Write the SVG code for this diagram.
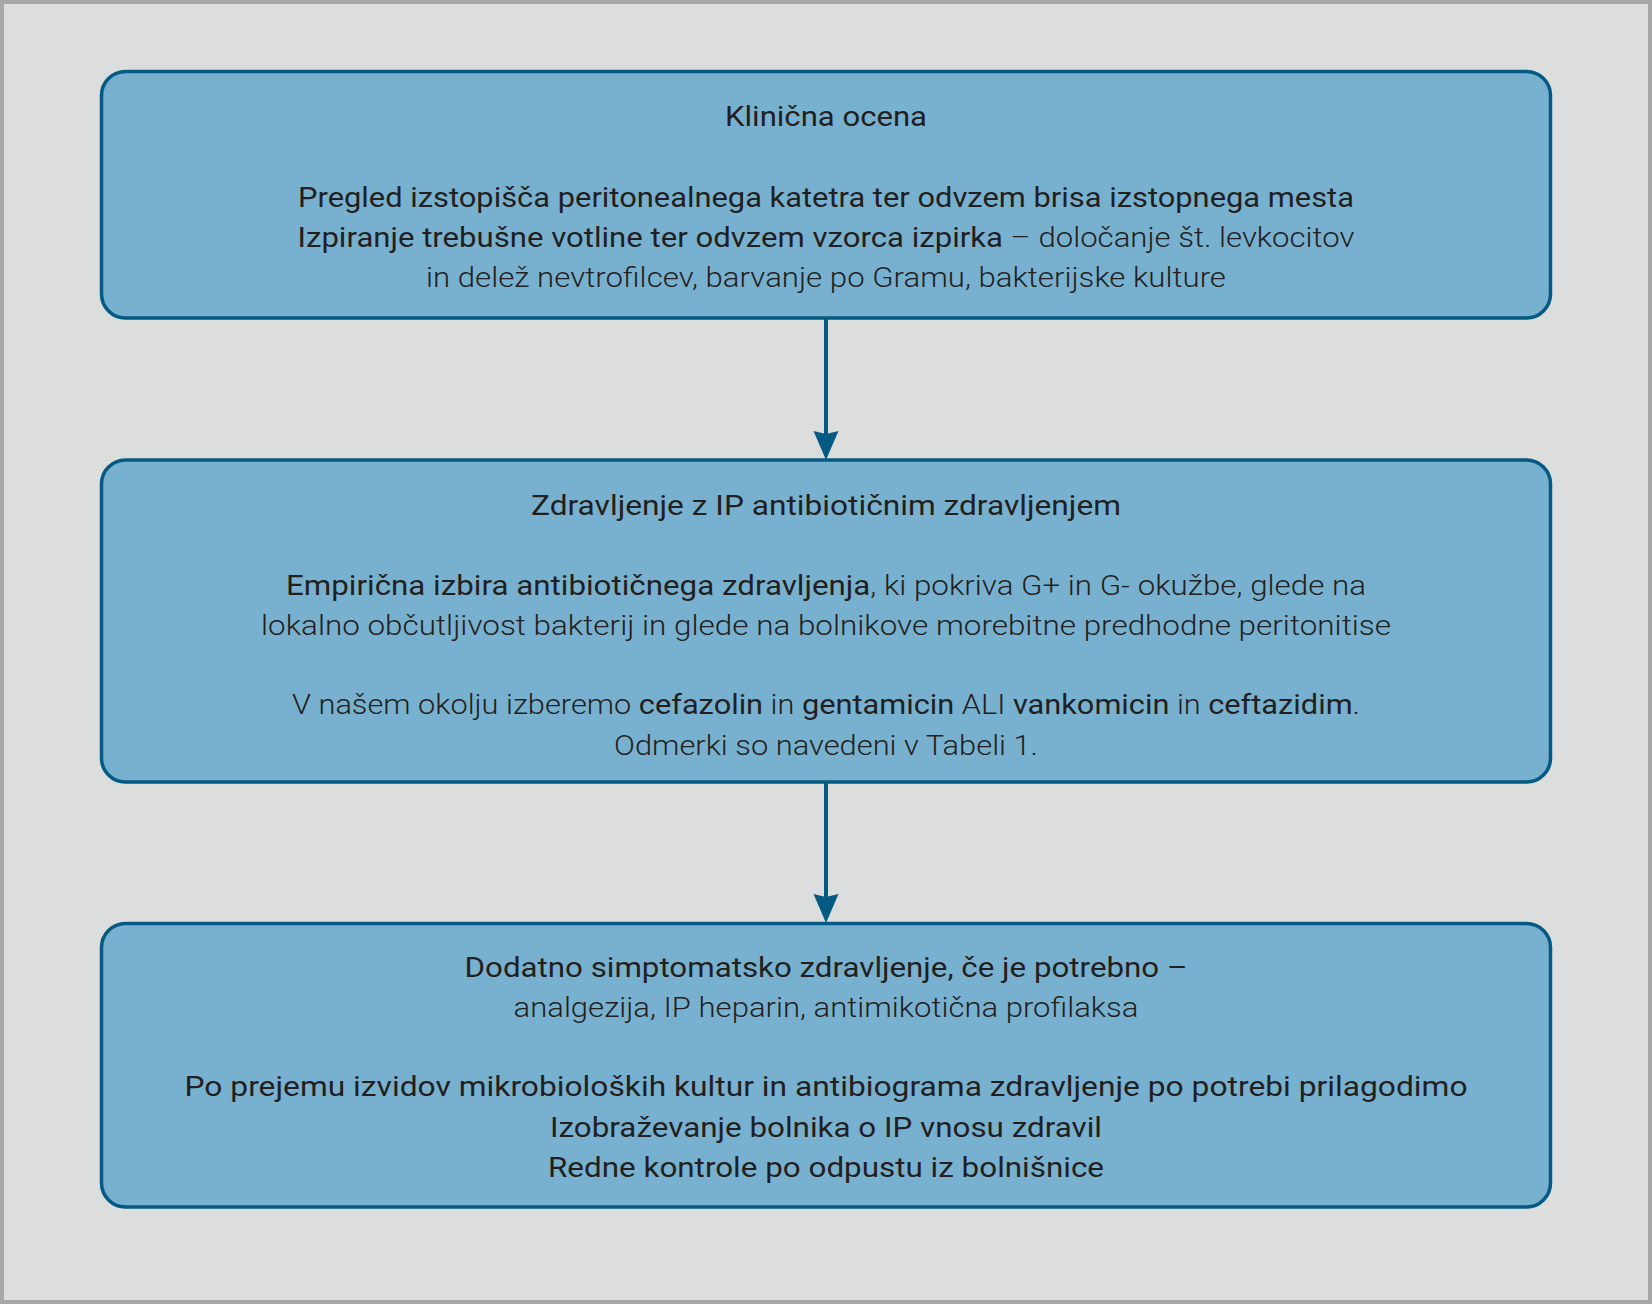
<svg xmlns="http://www.w3.org/2000/svg" width="1652" height="1304" viewBox="0 0 1652 1304">
<defs>
<style>
.frame{fill:#dcdedd;stroke:#a7a7a7;stroke-width:4}
.box{fill:#78b1cf;stroke:#045a82;stroke-width:3.5}
.conn{stroke:#045a82;stroke-width:4;fill:none}
text{font-family:Roboto,"Noto Sans","Liberation Sans",sans-serif;font-size:27px;fill:#231f20;text-anchor:middle}
.r{font-weight:400}
.l{font-weight:300}
</style>
<marker id="ah" markerUnits="userSpaceOnUse" markerWidth="29" markerHeight="26" viewBox="0 0 29 26" refX="9" refY="13" orient="auto">
<path d="M0,0.5 L29,13 L0,25.5 L3,13 Z" fill="#045a82"/>
</marker>
</defs>
<rect class="frame" x="2" y="2" width="1648" height="1300"/>
<g id="connectors">
<line class="conn" x1="826" y1="318" x2="826" y2="440" marker-end="url(#ah)"/>
<line class="conn" x1="826" y1="782" x2="826" y2="903" marker-end="url(#ah)"/>
</g>
<g id="node1">
<rect class="box" x="101.5" y="71.5" width="1449" height="246.5" rx="24"/>
<text x="826" y="126" class="r" textLength="202" lengthAdjust="spacingAndGlyphs">Klinična ocena</text>
<text x="826" y="207" class="r" textLength="1056" lengthAdjust="spacingAndGlyphs">Pregled izstopišča peritonealnega katetra ter odvzem brisa izstopnega mesta</text>
<text x="826" y="247" textLength="1057" lengthAdjust="spacingAndGlyphs"><tspan class="r">Izpiranje trebušne votline ter odvzem vzorca izpirka</tspan><tspan class="l"> – določanje št. levkocitov</tspan></text>
<text x="826" y="287" class="l" textLength="800" lengthAdjust="spacingAndGlyphs">in delež nevtrofilcev, barvanje po Gramu, bakterijske kulture</text>
</g>
<g id="node2">
<rect class="box" x="101.5" y="460" width="1449" height="322" rx="24"/>
<text x="826" y="515" class="r" textLength="590" lengthAdjust="spacingAndGlyphs">Zdravljenje z IP antibiotičnim zdravljenjem</text>
<text x="826" y="595" textLength="1080" lengthAdjust="spacingAndGlyphs"><tspan class="r">Empirična izbira antibiotičnega zdravljenja</tspan><tspan class="l">, ki pokriva G+ in G- okužbe, glede na</tspan></text>
<text x="826" y="635" class="l" textLength="1130" lengthAdjust="spacingAndGlyphs">lokalno občutljivost bakterij in glede na bolnikove morebitne predhodne peritonitise</text>
<text x="826" y="714" textLength="1068" lengthAdjust="spacingAndGlyphs"><tspan class="l">V našem okolju izberemo </tspan><tspan class="r">cefazolin</tspan><tspan class="l"> in </tspan><tspan class="r">gentamicin</tspan><tspan class="l"> ALI </tspan><tspan class="r">vankomicin</tspan><tspan class="l"> in </tspan><tspan class="r">ceftazidim</tspan><tspan class="l">.</tspan></text>
<text x="826" y="755" class="l" textLength="424" lengthAdjust="spacingAndGlyphs">Odmerki so navedeni v Tabeli 1.</text>
</g>
<g id="node3">
<rect class="box" x="101.5" y="923.5" width="1449" height="283.5" rx="24"/>
<text x="826" y="977" class="r" textLength="723" lengthAdjust="spacingAndGlyphs">Dodatno simptomatsko zdravljenje, če je potrebno –</text>
<text x="826" y="1017" class="l" textLength="625" lengthAdjust="spacingAndGlyphs">analgezija, IP heparin, antimikotična profilaksa</text>
<text x="826" y="1096" class="r" textLength="1283" lengthAdjust="spacingAndGlyphs">Po prejemu izvidov mikrobioloških kultur in antibiograma zdravljenje po potrebi prilagodimo</text>
<text x="826" y="1137" class="r" textLength="552" lengthAdjust="spacingAndGlyphs">Izobraževanje bolnika o IP vnosu zdravil</text>
<text x="826" y="1177" class="r" textLength="556" lengthAdjust="spacingAndGlyphs">Redne kontrole po odpustu iz bolnišnice</text>
</g>
</svg>
